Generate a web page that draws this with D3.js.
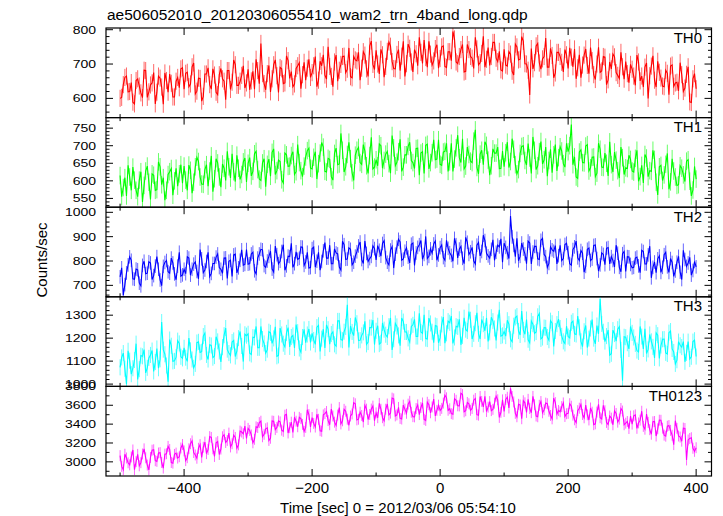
<!DOCTYPE html>
<html><head><meta charset="utf-8">
<script src="https://cdn.jsdelivr.net/npm/d3@7"></script>
<style>
body{margin:0;background:#fff}
text{font-family:"Liberation Sans",Arial,Helvetica,sans-serif;fill:#000}
</style>
</head><body>
<svg id="chart" width="723" height="516"></svg>
<script>
// ---------- data ----------
// main samples at t = -500, -495, ..., 400 s; "mid" samples at t = -497.5, ..., 397.5 s
const timeStart = -500;
const timeStep = 5;
const midOffset = 2.5;

const th0 = [
600,640,665,620,589,652,636,602,681,619,645,584,665,633,674,618,644,604,661,686,
627,676,642,703,621,658,606,671,640,686,618,669,657,596,681,647,698,638,667,630,
685,651,627,681,760,643,672,619,698,666,690,643,724,658,634,687,704,669,653,714,
675,722,653,695,668,750,664,706,650,699,723,685,663,722,709,653,736,686,752,699,
740,671,727,693,764,707,686,742,723,664,758,706,742,695,734,770,691,729,709,756,
716,753,690,736,795,706,722,757,679,742,717,778,698,731,691,748,722,763,707,683,
743,694,729,668,750,714,766,700,610,686,753,703,715,776,691,725,674,734,705,742,
687,720,744,689,660,726,696,748,669,700,676,722,640,706,729,675,658,692,707,646,
685,638,706,665,691,600,694,653,708,659,634,673,694,635,647,704,620,670,590,657,
628];
const th0Mid = [
603,661,619,646,584,657,616,682,603,639,675,618,659,583,652,671,604,650,631,689,
673,634,692,613,659,592,671,689,627,668,611,687,650,681,626,712,638,650,695,645,
625,679,714,643,672,625,696,657,712,617,686,645,710,678,642,695,628,705,688,661,
695,634,708,727,656,693,634,726,682,722,675,747,660,712,734,688,726,664,767,684,
700,743,662,737,752,687,728,681,766,701,746,677,730,778,702,719,766,697,745,688,
750,693,736,710,773,701,742,677,757,722,687,744,704,781,714,696,763,717,737,680,
697,736,679,758,712,780,701,682,745,704,760,685,722,691,746,660,734,722,677,727,
747,692,657,727,697,744,672,710,655,749,680,720,654,686,721,667,734,656,672,699,
665,726,651,633,703,666,724,633,676,636,682,611,697,645,622,669,630,692,588,672];

const th1 = [
615,581,557,611,639,573,602,540,628,596,620,573,654,589,545,618,635,600,585,646,
642,573,630,596,667,611,590,646,628,569,663,611,648,601,640,677,598,636,618,665,
650,614,677,632,601,663,647,613,691,629,655,594,674,642,683,626,652,612,668,693,
634,683,649,709,627,664,612,678,646,735,625,675,663,601,687,652,703,643,672,634,
660,705,636,676,649,729,643,683,627,674,698,658,635,693,679,621,704,652,717,662,
647,682,707,654,627,694,666,720,642,675,652,745,620,687,711,659,643,679,696,636,
640,710,655,690,620,678,700,645,665,725,632,683,648,696,658,623,703,666,685,639,
683,760,668,607,688,651,703,637,668,622,690,638,650,711,625,659,608,666,637,673,
628,664,599,644,675,612,627,661,560,644,617,678,597,628,587,643,617,656,599,574,
605];
const th1Mid = [
555,609,644,573,602,555,626,587,642,547,616,575,640,609,573,626,559,636,620,593,
602,645,565,640,655,591,632,585,671,606,651,582,636,684,608,626,673,604,654,597,
666,627,684,605,651,583,662,681,618,659,603,679,641,672,618,703,629,642,686,636,
667,605,679,696,625,661,602,693,648,687,640,710,623,673,695,647,685,621,724,639,
643,700,658,684,622,694,653,718,639,674,710,652,692,616,683,701,634,680,660,717,
644,684,627,707,662,730,652,634,696,656,713,638,676,646,701,616,691,679,635,685,
680,638,720,646,632,698,658,706,621,687,643,712,660,613,690,674,628,697,649,707,
700,646,611,682,652,699,628,667,612,707,639,679,614,646,682,629,696,618,635,661,
625,687,612,594,665,629,687,596,640,601,647,576,663,611,589,636,598,660,557,641];

const th2 = [
735,660,751,817,727,767,709,782,748,797,724,779,766,699,794,756,812,747,779,738,
766,817,742,787,757,847,752,798,736,790,816,773,749,813,799,737,828,772,846,786,
787,829,760,812,848,781,800,840,755,826,799,867,780,818,774,838,811,857,796,771,
851,775,836,798,876,812,789,850,829,763,867,808,848,795,838,878,790,831,810,862,
804,844,872,814,784,859,828,889,803,840,816,869,782,856,884,827,810,850,870,803,
855,814,885,834,799,867,849,811,897,827,856,788,876,839,884,821,848,803,865,891,
873,834,985,864,893,819,849,789,874,837,860,806,893,818,790,846,863,822,802,868,
834,783,858,813,843,754,848,802,864,810,784,827,852,788,802,865,774,830,757,817,
772,812,780,844,788,825,731,796,809,753,826,776,810,737,795,754,844,778,815,761,
776];
const th2Mid = [
772,703,784,803,725,764,698,799,750,792,740,818,722,778,802,750,792,723,836,743,
748,812,766,796,727,809,763,836,749,790,829,766,812,728,803,825,751,803,783,847,
789,836,747,829,846,774,819,767,861,789,839,762,820,873,789,807,858,782,836,773,
857,799,762,842,812,865,789,833,775,881,807,854,784,820,862,806,882,798,819,851,
863,820,883,795,845,771,857,878,808,854,792,874,833,867,807,901,819,832,882,825,
866,803,852,823,893,813,860,789,877,838,801,865,821,906,832,812,887,836,858,795,
856,810,899,818,801,874,829,882,788,860,809,885,827,774,858,840,788,864,810,873,
789,847,882,802,832,778,853,808,866,759,833,785,855,818,776,832,756,839,818,786,
774,816,752,839,788,861,774,752,821,774,836,753,794,759,819,724,806,792,742,798];

const th3 = [
1073,1135,1000,1102,1069,1176,1065,1121,1049,1114,1146,1096,1069,1270,1130,1010,1167,1101,1189,1119,
1158,1099,1147,1071,1181,1138,1209,1127,1171,1115,1206,1142,1161,1244,1135,1183,1120,1200,1166,1217,
1219,1129,1203,1158,1251,1177,1150,1223,1199,1121,1244,1176,1223,1162,1212,1259,1155,1205,1180,1240,
1221,1173,1256,1198,1157,1239,1218,1173,1275,1194,1228,1345,1253,1211,1265,1191,1225,1173,1246,1279,
1232,1174,1266,1215,1252,1149,1264,1212,1288,1227,1199,1251,1282,1207,1227,1302,1196,1264,1180,1252,
1201,1292,1221,1267,1177,1252,1282,1210,1237,1316,1196,1265,1219,1281,1232,1186,1291,1242,1268,1209,
1229,1278,1195,1254,1296,1214,1236,1281,1180,1261,1227,1308,1203,1245,1191,1265,1231,1283,1210,1177,
1207,1267,1219,1296,1186,1230,1159,1242,1198,1255,1370,1228,1209,1126,1235,1187,1250,1015,1204,1153,
1223,1175,1140,1207,1241,1151,1186,1114,1213,1168,1196,1131,1231,1140,1104,1169,1185,1136,1109,1185,
1120];
const th3Mid = [
1116,1067,1145,1043,1105,1020,1124,1150,1071,1127,1055,1155,1108,1150,1081,1194,1099,1117,1177,1112,
1115,1200,1107,1088,1184,1141,1222,1107,1168,1122,1186,1097,1213,1150,1125,1190,1143,1229,1098,1211,
1134,1204,1251,1158,1196,1135,1228,1177,1249,1125,1216,1162,1246,1205,1157,1226,1139,1238,1216,1181,
1192,1248,1142,1239,1258,1174,1227,1165,1275,1191,1249,1159,1227,1290,1190,1212,1273,1183,1246,1172,
1254,1180,1237,1205,1288,1195,1251,1167,1272,1227,1183,1258,1207,1308,1221,1198,1287,1228,1255,1180,
1260,1178,1274,1296,1203,1249,1171,1289,1231,1280,1219,1310,1196,1261,1288,1225,1274,1190,1323,1212,
1209,1261,1185,1290,1231,1318,1217,1193,1275,1221,1295,1197,1246,1205,1276,1164,1261,1244,1186,1252,
1201,1274,1216,1247,1163,1255,1198,1281,1175,1219,1262,1185,1235,1132,1218,1239,1149,1206,1178,1251,
1203,1146,1251,1153,1133,1216,1162,1223,1112,1195,1136,1224,1153,1088,1185,1161,1097,1185,1119,1191];

const th0123 = [
3066,2916,3041,2968,3126,3002,2958,3083,3043,2915,3124,3012,3094,2993,3082,3164,2993,3079,3040,3147,
3116,3044,3192,3099,3038,3183,3155,3087,3268,3138,3202,3078,3266,3205,3305,3192,3259,3180,3316,3380,
3355,3286,3239,3364,3431,3292,3361,3250,3430,3365,3424,3323,3504,3362,3312,3431,3472,3397,3365,3502,
3470,3369,3451,3324,3512,3437,3559,3421,3496,3402,3557,3452,3486,3627,3445,3527,3422,3559,3502,3591,
3519,3620,3468,3558,3498,3676,3487,3577,3454,3559,3612,3526,3477,3604,3576,3450,3632,3520,3665,3546,
3545,3623,3679,3563,3505,3653,3593,3713,3542,3616,3566,3672,3495,3641,3695,3580,3543,3622,3658,3525,
3534,3685,3780,3635,3478,3603,3648,3524,3565,3694,3486,3600,3520,3623,3536,3456,3629,3545,3586,3481,
3514,3590,3446,3543,3608,3467,3499,3571,3394,3528,3468,3599,3418,3486,3393,3513,3453,3539,3410,3353,
3400,3498,3413,3537,3346,3418,3293,3428,3350,3441,3283,3378,3334,3183,3355,3263,3358,3020,3248,3144,
3150];
const th0123Mid = [
2952,3081,2990,3052,2917,3079,2991,3138,2966,3047,3128,3005,3098,2934,3086,3131,2986,3093,3054,3184,
3013,3139,3222,3073,3144,3047,3210,3131,3259,3057,3215,3135,3288,3227,3158,3284,3146,3326,3298,3248,
3333,3202,3371,3416,3266,3351,3227,3433,3342,3434,3336,3495,3306,3421,3473,3372,3458,3323,3552,3370,
3408,3505,3330,3498,3534,3393,3486,3386,3576,3435,3537,3388,3508,3616,3452,3492,3598,3449,3560,3437,
3468,3558,3435,3613,3516,3668,3498,3460,3601,3515,3642,3479,3565,3501,3624,3439,3606,3582,3487,3601,
3567,3707,3547,3511,3670,3594,3727,3530,3630,3547,3654,3500,3693,3582,3534,3639,3557,3696,3471,3657,
3662,3571,3693,3514,3610,3457,3626,3663,3521,3606,3478,3640,3553,3616,3492,3676,3508,3531,3625,3510,
3617,3495,3416,3569,3502,3603,3444,3527,3403,3609,3455,3542,3396,3464,3540,3421,3566,3393,3428,3485,
3488,3355,3442,3376,3507,3341,3425,3274,3442,3357,3272,3385,3282,3436,3274,3219,3354,3232,3256,3111];

const bandNames = ["TH0","TH1","TH2","TH3","TH0123"];
const bandMain = [th0, th1, th2, th3, th0123];
const bandMid = [th0Mid, th1Mid, th2Mid, th3Mid, th0123Mid];
const bandErrors = [25, 25, 28, 35, 58];   // typical 1-sigma error bar (counts/sec)
const bandColors = ["#ff0000","#00ff00","#0000ff","#00ffff","#ff00ff"];
const yDomains = [[544,805],[525,780],[653,1021],[990,1380],[2850,3800]];
const yMajor = [100,50,100,100,200];
const yMinor = [20,10,20,20,100];
const xDomain = [-522,424];
const xMajorTicks = [-400,-200,0,200,400];
const xMinorTicks = [-500,-300,-100,100,300];

const titleText = "ae506052010_20120306055410_wam2_trn_4band_long.qdp";
const xLabel = "Time [sec] 0 = 2012/03/06 05:54:10";
const yLabel = "Counts/sec";

// ---------- layout ----------
const plotL = 106, plotR = 711.5, plotT = 28, plotB = 476;
const nP = bandNames.length;
const ph = (plotB - plotT) / nP;
const svg = d3.select("#chart");
const x = d3.scaleLinear().domain(xDomain).range([plotL, plotR]);

function ticksFor(dom, step){
  const a = Math.ceil(dom[0]/step)*step, out=[];
  for(let v=a; v<=dom[1]+1e-9; v+=step) out.push(v);
  return out;
}

bandNames.forEach((name, i) => {
  const y0 = plotT + i*ph, y1 = y0 + ph;
  const y = d3.scaleLinear().domain(yDomains[i]).range([y1, y0]);
  const g = svg.append("g");
  const clipId = "clip"+i;
  svg.append("clipPath").attr("id", clipId).append("rect")
    .attr("x", plotL).attr("y", y0).attr("width", plotR-plotL).attr("height", ph);

  const main = bandMain[i], mid = bandMid[i];
  const pts = [];
  main.forEach((v, k) => {
    pts.push({t: timeStart + k*timeStep, v});
    if (k < mid.length) pts.push({t: timeStart + k*timeStep + midOffset, v: mid[k]});
  });
  const err = bandErrors[i];
  const data = g.append("g").attr("clip-path", `url(#${clipId})`);
  data.append("g").selectAll("line").data(pts).join("line")
    .attr("x1", d => x(d.t)).attr("x2", d => x(d.t))
    .attr("y1", d => y(d.v - err)).attr("y2", d => y(d.v + err))
    .attr("stroke", bandColors[i]).attr("stroke-opacity", 0.6).attr("stroke-width", 1);
  const line = d3.line().x(d => x(d.t)).y(d => y(d.v));
  data.append("path").datum(pts)
    .attr("d", line)
    .attr("fill", "none")
    .attr("stroke", bandColors[i])
    .attr("stroke-width", 1.1);

  g.append("rect").attr("x", plotL).attr("y", y0).attr("width", plotR-plotL).attr("height", ph)
    .attr("fill","none").attr("stroke","#000").attr("stroke-width",1.2);

  const tk = g.append("g").attr("stroke","#000").attr("stroke-width",1);
  const majors = ticksFor(yDomains[i], yMajor[i]);
  const minors = ticksFor(yDomains[i], yMinor[i]).filter(v => !majors.some(m => Math.abs(m-v)<1e-6));
  majors.forEach(v => {
    tk.append("line").attr("x1",plotL).attr("x2",plotL+7).attr("y1",y(v)).attr("y2",y(v));
    tk.append("line").attr("x1",plotR).attr("x2",plotR-7).attr("y1",y(v)).attr("y2",y(v));
  });
  minors.forEach(v => {
    tk.append("line").attr("x1",plotL).attr("x2",plotL+3.5).attr("y1",y(v)).attr("y2",y(v));
    tk.append("line").attr("x1",plotR).attr("x2",plotR-3.5).attr("y1",y(v)).attr("y2",y(v));
  });
  xMajorTicks.forEach(v => {
    tk.append("line").attr("x1",x(v)).attr("x2",x(v)).attr("y1",y1).attr("y2",y1-7);
    tk.append("line").attr("x1",x(v)).attr("x2",x(v)).attr("y1",y0).attr("y2",y0+7);
  });
  xMinorTicks.forEach(v => {
    tk.append("line").attr("x1",x(v)).attr("x2",x(v)).attr("y1",y1).attr("y2",y1-3.5);
    tk.append("line").attr("x1",x(v)).attr("x2",x(v)).attr("y1",y0).attr("y2",y0+3.5);
  });
  majors.forEach(v => {
    g.append("text")
      .attr("transform", `translate(96,${y(v)}) scale(1,0.8)`)
      .attr("text-anchor","end").attr("dy","0.36em")
      .style("font-size","14px").text(v);
  });
  g.append("text").attr("x", 702).attr("y", y0+14.5)
    .attr("text-anchor","end").style("font-size","15px").text(name);

  if (i === nP-1) {
    xMajorTicks.forEach(v => {
      g.append("text").attr("x", x(v)).attr("y", y1+16.7)
        .attr("text-anchor","middle").style("font-size","15px")
        .text(v < 0 ? "\u2212" + Math.abs(v) : v);
    });
  }
});

svg.append("text").attr("x", 107).attr("y", 20).style("font-size","15.5px").text(titleText);
svg.append("text").attr("x", 398).attr("y", 512.5).attr("text-anchor","middle")
  .style("font-size","15px").text(xLabel);
svg.append("text").attr("transform","translate(46.5,260) rotate(-90)")
  .attr("text-anchor","middle").style("font-size","15px").text(yLabel);
</script>
</body></html>
